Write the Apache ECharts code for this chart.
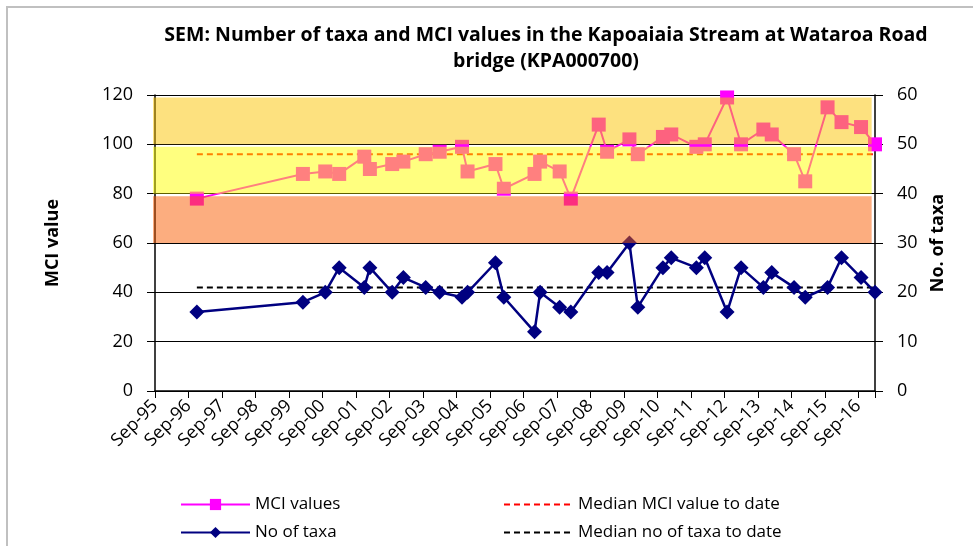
<!DOCTYPE html>
<html>
<head>
<meta charset="utf-8">
<title>Kapoaiaia Stream MCI</title>
<script src="https://cdn.jsdelivr.net/npm/echarts@6/dist/echarts.min.js"></script>
<style>
  html, body { margin: 0; padding: 0; background: #fff; }
  #chart { width: 973px; height: 546px; }
</style>
</head>
<body>
<div id="chart"></div>
<script>
// sampling dates (year-month)
const sampleDates = [
  '1996-12', '2000-02', '2000-10', '2001-03', '2001-12', '2002-02', '2002-10', '2003-02',
  '2003-10', '2004-03', '2004-11', '2005-01', '2005-11', '2006-02', '2007-01', '2007-03',
  '2007-10', '2008-02', '2008-12', '2009-03', '2009-11', '2010-02', '2010-11', '2011-02',
  '2011-11', '2012-02', '2012-10', '2013-03', '2013-11', '2014-02', '2014-10', '2015-02',
  '2015-10', '2016-03', '2016-10', '2017-03'
]
const mciValues = [
  78, 88, 89, 88, 95, 90, 92, 93,
  96, 97, 99, 89, 92, 82, 88, 93,
  89, 78, 108, 97, 102, 96, 103, 104,
  99, 100, 119, 100, 106, 104, 96, 85,
  115, 109, 107, 100
]
const taxaCounts = [
  16, 18, 20, 25, 21, 25, 20, 23,
  21, 20, 19, 20, 26, 19, 12, 20,
  17, 16, 24, 24, 30, 17, 25, 27,
  25, 27, 16, 25, 21, 24, 21, 19,
  21, 27, 23, 20
]
const medianMci = 96
const medianTaxa = 21
// MCI quality bands [low, high]
const mciBands = [[60, 79], [80, 99], [100, 119]]
const xTickLabels = [
  'Sep-95', 'Sep-96', 'Sep-97', 'Sep-98', 'Sep-99', 'Sep-00', 'Sep-01', 'Sep-02',
  'Sep-03', 'Sep-04', 'Sep-05', 'Sep-06', 'Sep-07', 'Sep-08', 'Sep-09', 'Sep-10',
  'Sep-11', 'Sep-12', 'Sep-13', 'Sep-14', 'Sep-15', 'Sep-16'
]

// months counted from Sep-95
function toMonths(d) {
  const parts = d.split('-')
  return (Number(parts[0]) - 1995) * 12 + (Number(parts[1]) - 9)
}
const xs = sampleDates.map(toMonths)
const xFirst = xs[0]
const xLast = xs[xs.length - 1]

const font = 'Open Sans'
const bandColors = ['#fa5c00', '#ffff00', '#fbc400']

// one legend per entry so the two columns line up like the original
function legendItem(left, top, item) {
  return {
    left: left,
    top: top,
    itemWidth: 69,
    itemHeight: 14,
    textStyle: { fontFamily: font, fontSize: 17, color: '#000' },
    data: [item]
  }
}

const chart = echarts.init(document.getElementById('chart'))
chart.setOption({
  backgroundColor: '#fff',
  animation: false,
  textStyle: { fontFamily: font, color: '#000' },
  title: {
    text: 'SEM: Number of taxa and MCI values in the Kapoaiaia Stream at Wataroa Road\nbridge (KPA000700)',
    left: 546,
    top: 22,
    padding: 0,
    textAlign: 'center',
    textStyle: { fontFamily: font, fontSize: 19.5, fontWeight: 'bold', lineHeight: 26, color: '#000' }
  },
  graphic: [{
    type: 'polyline',
    shape: { points: [[7, 546], [7, 7], [973, 7]] },
    style: { stroke: '#c0c0c0', lineWidth: 2, fill: null },
    silent: true
  }],
  legend: [
    legendItem(175, 491, 'MCI values'),
    legendItem(175, 519, 'No of taxa'),
    legendItem(498, 491, { name: 'Median MCI value to date', itemStyle: { opacity: 0 } }),
    legendItem(498, 519, { name: 'Median no of taxa to date', itemStyle: { opacity: 0 } })
  ],
  grid: { left: 155, right: 98, top: 95, bottom: 155 },
  xAxis: {
    type: 'value',
    min: 0,
    max: xLast,
    interval: 12,
    splitLine: { show: false },
    axisLine: { lineStyle: { color: '#000', width: 1.5 } },
    axisTick: { length: 7, lineStyle: { color: '#000' } },
    axisLabel: {
      rotate: 45,
      margin: 12,
      fontSize: 18,
      color: '#000',
      formatter: v => (v % 12 === 0 ? xTickLabels[v / 12] : '')
    }
  },
  yAxis: [
    {
      type: 'value',
      min: 0,
      max: 120,
      interval: 20,
      name: 'MCI value',
      nameLocation: 'middle',
      nameGap: 93,
      nameTextStyle: { fontFamily: font, fontSize: 18, fontWeight: 'bold', color: '#000' },
      axisLine: { show: true, lineStyle: { color: '#000', width: 1.5 } },
      axisTick: { show: true, length: 8, lineStyle: { color: '#000' } },
      axisLabel: { margin: 22, fontSize: 18, color: '#000' },
      splitLine: { lineStyle: { color: '#000', width: 1 } }
    },
    {
      type: 'value',
      min: 0,
      max: 60,
      interval: 10,
      name: 'No. of taxa',
      nameLocation: 'middle',
      nameGap: 53,
      nameTextStyle: { fontFamily: font, fontSize: 18, fontWeight: 'bold', color: '#000' },
      axisLine: { show: true, lineStyle: { color: '#000', width: 1.5 } },
      axisTick: { show: true, length: 8, lineStyle: { color: '#000' } },
      axisLabel: { margin: 22, fontSize: 18, color: '#000' },
      splitLine: { show: false }
    }
  ],
  series: [
    {
      name: 'MCI values',
      type: 'line',
      yAxisIndex: 0,
      data: xs.map((x, i) => [x, mciValues[i]]),
      symbol: 'rect',
      symbolSize: 14,
      color: '#ff00ff',
      lineStyle: { width: 2, color: '#ff00ff' },
      itemStyle: { color: '#ff00ff' },
      clip: false,
      z: 3
    },
    {
      name: 'No of taxa',
      type: 'line',
      yAxisIndex: 1,
      data: xs.map((x, i) => [x, taxaCounts[i]]),
      symbol: 'diamond',
      symbolSize: 15,
      color: '#000080',
      lineStyle: { width: 2.5, color: '#000080' },
      itemStyle: { color: '#000080' },
      clip: false,
      z: 3
    },
    {
      name: 'Median MCI value to date',
      type: 'line',
      yAxisIndex: 0,
      data: [[xFirst, medianMci], [xLast, medianMci]],
      symbol: 'none',
      color: '#ff0000',
      lineStyle: { width: 2, color: '#ff0000', type: [6, 4] },
      z: 2
    },
    {
      name: 'Median no of taxa to date',
      type: 'line',
      yAxisIndex: 1,
      data: [[xFirst, medianTaxa], [xLast, medianTaxa]],
      symbol: 'none',
      color: '#000',
      lineStyle: { width: 2, color: '#000', type: [6, 4] },
      z: 2
    },
    {
      // semi-transparent MCI bands laid over everything
      name: 'bands',
      type: 'custom',
      yAxisIndex: 0,
      z: 10,
      silent: true,
      data: mciBands,
      renderItem: function(params, api) {
        const p0 = api.coord([0, api.value(1)])
        const p1 = api.coord([xLast - 1.2, api.value(0)])
        return {
          type: 'rect',
          shape: { x: p0[0] - 2, y: p0[1], width: p1[0] - p0[0] + 2, height: p1[1] - p0[1] },
          style: { fill: bandColors[params.dataIndex], opacity: 0.5 }
        }
      }
    }
  ]
})
</script>
</body>
</html>
